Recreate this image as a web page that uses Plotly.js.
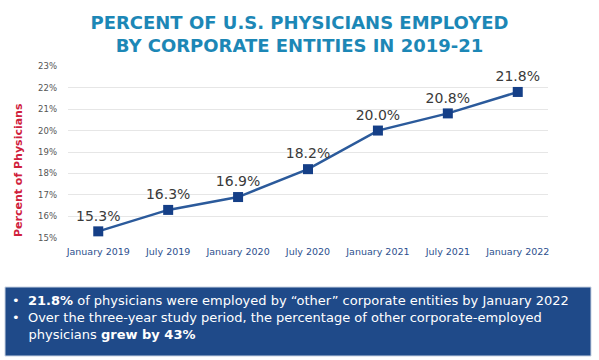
<!DOCTYPE html>
<html>
<head>
<meta charset="utf-8">
<script src="https://cdn.plot.ly/plotly-3.0.1.min.js"></script>
<style>html,body{margin:0;padding:0;background:#fff;}#chart{width:599px;height:360px;}</style>
</head>
<body>
<div id="chart"></div>
<script>
const categories = ["January 2019","July 2019","January 2020","July 2020","January 2021","July 2021","January 2022"];
const percentValues = [15.3, 16.3, 16.9, 18.2, 20.0, 20.8, 21.8];
const yTickValues = [15,16,17,18,19,20,21,22,23];
const yTickLabels = ["15%","16%","17%","18%","19%","20%","21%","22%","23%"];
const titleText = "PERCENT OF U.S. PHYSICIANS EMPLOYED<br>BY CORPORATE ENTITIES IN 2019-21";
const yTitleText = "Percent of Physicians";
const boxLines = [
  "•  <b>21.8%</b> of physicians were employed by \u201cother\u201d corporate entities by January 2022",
  "•  Over the three-year study period, the percentage of other corporate-employed",
  "    physicians <b>grew by 43%</b>"
];

const W = 599, H = 360;
const L = 68, R = 51, T = 66, B = 122;
const pw = W - L - R, ph = H - T - B;
const px = x => (x - L) / pw;
const py = y => (H - B - y) / ph;

const trace = {
  x: categories,
  y: percentValues,
  type: 'scatter',
  mode: 'lines+markers+text',
  text: percentValues.map(v => v.toFixed(1) + '%'),
  textposition: 'top center',
  textfont: {family: 'DejaVu Sans, sans-serif', size: 14, color: '#3a3a3a'},
  line: {color: '#2b5a9b', width: 2.5},
  marker: {symbol: 'square', size: 10, color: '#153f87'},
  cliponaxis: false,
  hoverinfo: 'skip'
};

const layout = {
  width: W, height: H,
  margin: {l: L, r: R, t: T, b: B},
  paper_bgcolor: '#ffffff',
  plot_bgcolor: '#ffffff',
  showlegend: false,
  title: {
    text: titleText,
    font: {family: 'DejaVu Sans, sans-serif', size: 18, color: '#1c87b6', weight: 'bold'},
    x: 0.5, xanchor: 'center',
    y: 1 - 29/H, yanchor: 'middle', yref: 'container'
  },
  xaxis: {
    type: 'category',
    tickfont: {family: 'DejaVu Sans, sans-serif', size: 9.5, color: '#2c4f8e'},
    showgrid: false, showline: false, zeroline: false, ticks: '',
    ticklabelstandoff: 6,
    fixedrange: true
  },
  yaxis: {
    range: [14.99, 23.01],
    tickvals: yTickValues,
    ticktext: yTickLabels,
    tickfont: {family: 'DejaVu Sans, sans-serif', size: 8.5, color: '#555555'},
    showgrid: true, gridcolor: '#e6e6e6', gridwidth: 1,
    showline: false, zeroline: false, ticks: '',
    ticklabelstandoff: 10,
    fixedrange: true
  },
  annotations: [
    {
      text: '<b>' + yTitleText + '</b>',
      xref: 'paper', yref: 'paper',
      x: px(18), y: py(170),
      xanchor: 'center', yanchor: 'middle',
      textangle: -90, showarrow: false,
      font: {family: 'DejaVu Sans, sans-serif', size: 11, color: '#d0203c'}
    },
    {
      text: boxLines.join('<br>'),
      xref: 'paper', yref: 'paper',
      x: px(10), y: py(317),
      xanchor: 'left', yanchor: 'middle', align: 'left',
      showarrow: false,
      font: {family: 'DejaVu Sans, sans-serif', size: 13, color: '#ffffff'}
    }
  ],
  shapes: [
    {
      type: 'rect', xref: 'paper', yref: 'paper',
      x0: px(5), x1: px(591), y0: py(287), y1: py(356),
      fillcolor: '#1f4a89', line: {color: '#c9d3e3', width: 1},
      layer: 'below'
    }
  ]
};

Plotly.newPlot('chart', [trace], layout, {displayModeBar: false, staticPlot: true});
</script>
</body>
</html>
